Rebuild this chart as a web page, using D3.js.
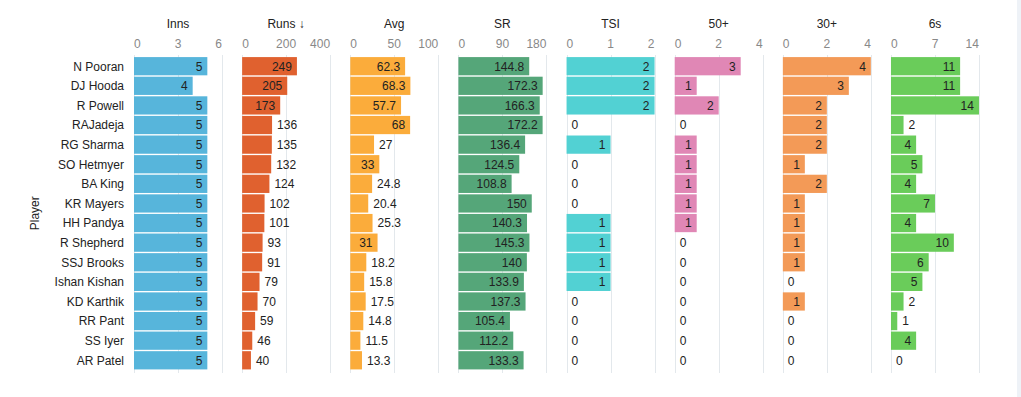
<!DOCTYPE html>
<html>
<head>
<meta charset="utf-8">
<script src="https://cdn.jsdelivr.net/npm/d3@7"></script>
<style>
  body { margin: 0; background: #fff; }
  #chart { position: relative; }
  text { font-family: "Liberation Sans", Arial, sans-serif; }
</style>
</head>
<body>
<div id="chart"></div>
<script>
// Data
const players = ["N Pooran", "DJ Hooda", "R Powell", "RAJadeja", "RG Sharma", "SO Hetmyer", "BA King", "KR Mayers",
  "HH Pandya", "R Shepherd", "SSJ Brooks", "Ishan Kishan", "KD Karthik", "RR Pant", "SS Iyer", "AR Patel"];
const inns = [5, 4, 5, 5, 5, 5, 5, 5, 5, 5, 5, 5, 5, 5, 5, 5];
const runs = [249, 205, 173, 136, 135, 132, 124, 102, 101, 93, 91, 79, 70, 59, 46, 40];
const avg = [62.3, 68.3, 57.7, 68, 27, 33, 24.8, 20.4, 25.3, 31, 18.2, 15.8, 17.5, 14.8, 11.5, 13.3];
const sr = [144.8, 172.3, 166.3, 172.2, 136.4, 124.5, 108.8, 150, 140.3, 145.3, 140, 133.9, 137.3, 105.4, 112.2, 133.3];
const tsi = [2, 2, 2, 0, 1, 0, 0, 0, 1, 1, 1, 1, 0, 0, 0, 0];
const fifties = [3, 1, 2, 0, 1, 1, 1, 1, 1, 0, 0, 0, 0, 0, 0, 0];
const thirties = [4, 3, 2, 2, 2, 1, 2, 1, 1, 1, 1, 0, 1, 0, 0, 0];
const sixes = [11, 11, 14, 2, 4, 5, 4, 7, 4, 10, 6, 5, 2, 1, 4, 0];

const columnTitles = ["Inns", "Runs \u2193", "Avg", "SR", "TSI", "50+", "30+", "6s"];
const columnValues = [inns, runs, avg, sr, tsi, fifties, thirties, sixes];
const columnTicks = [[0, 3, 6], [0, 200, 400], [0, 50, 100], [0, 90, 180], [0, 1, 2], [0, 2, 4], [0, 2, 4], [0, 7, 14]];
const columnColors = ["#57b5db", "#e0612f", "#fbac3b", "#55a679", "#52d1d3", "#e087b5", "#f39a57", "#6acc5a"];

// Dimensions
const dimensions = {
  width: 1021,
  height: 397,
  panelStart: 134,
  panelStep: 108.14,
  panelWidth: 88,
  rowsTop: 56.5,
  rowsBottom: 370,
};

const svg = d3
  .select("#chart")
  .append("svg")
  .attr("width", dimensions.width)
  .attr("height", dimensions.height);

// scrollbar strip at the right edge
svg.append("rect")
  .attr("x", 1017)
  .attr("y", 0)
  .attr("width", 4)
  .attr("height", dimensions.height)
  .attr("fill", "#eef2f7");

// Scales
const yScale = d3
  .scaleBand()
  .domain(players)
  .range([dimensions.rowsTop, dimensions.rowsBottom])
  .paddingInner(0.07)
  .paddingOuter(0.03);

// Player labels
svg.append("g")
  .selectAll("text")
  .data(players)
  .join("text")
  .attr("x", 124)
  .attr("y", (d) => yScale(d) + yScale.bandwidth() / 2)
  .attr("dy", "0.36em")
  .attr("text-anchor", "end")
  .attr("font-size", 12)
  .attr("fill", "#222")
  .text((d) => d);

svg.append("text")
  .attr("transform", `translate(39, ${(dimensions.rowsTop + dimensions.rowsBottom) / 2}) rotate(-90)`)
  .attr("text-anchor", "middle")
  .attr("font-size", 12)
  .attr("fill", "#222")
  .text("Player");

// Panels
columnTitles.forEach((title, i) => {
  const values = columnValues[i];
  const ticks = columnTicks[i];
  const x0 = dimensions.panelStart + i * dimensions.panelStep;

  const xScale = d3
    .scaleLinear()
    .domain([0, ticks[ticks.length - 1]])
    .range([x0, x0 + dimensions.panelWidth]);

  const panel = svg.append("g");

  // gridlines
  panel.append("g")
    .selectAll("line")
    .data(ticks)
    .join("line")
    .attr("x1", (d) => Math.round(xScale(d)) + 0.5)
    .attr("x2", (d) => Math.round(xScale(d)) + 0.5)
    .attr("y1", 55)
    .attr("y2", 373)
    .attr("stroke", "#e3e8ec")
    .attr("stroke-width", 1);

  // tick labels
  panel.append("g")
    .selectAll("text")
    .data(ticks)
    .join("text")
    .attr("x", (d) => xScale(d))
    .attr("y", 48)
    .attr("text-anchor", (d, j) => (j === 0 ? "start" : j === ticks.length - 1 ? "end" : "middle"))
    .attr("font-size", 12)
    .attr("fill", "#888")
    .text((d) => d);

  // title
  panel.append("text")
    .attr("x", x0 + dimensions.panelWidth / 2)
    .attr("y", 28)
    .attr("text-anchor", "middle")
    .attr("font-size", 12)
    .attr("fill", "#222")
    .text(title);

  // bars
  panel.append("g")
    .selectAll("rect")
    .data(values)
    .join("rect")
    .attr("x", x0)
    .attr("y", (d, j) => yScale(players[j]))
    .attr("width", (d) => xScale(d) - x0)
    .attr("height", yScale.bandwidth())
    .attr("fill", columnColors[i]);

  // value labels: inside when they fit, otherwise just after the bar
  const labels = panel.append("g")
    .selectAll("text")
    .data(values)
    .join("text")
    .attr("y", (d, j) => yScale(players[j]) + yScale.bandwidth() / 2)
    .attr("dy", "0.36em")
    .attr("font-size", 12)
    .attr("fill", "#222")
    .text((d) => d);

  labels.each(function (d) {
    const barW = xScale(d) - x0;
    const textW = this.getComputedTextLength();
    const inside = barW >= textW + 12;
    d3.select(this)
      .attr("x", inside ? xScale(d) - 5 : xScale(d) + 5)
      .attr("text-anchor", inside ? "end" : "start");
  });
});
</script>
</body>
</html>
